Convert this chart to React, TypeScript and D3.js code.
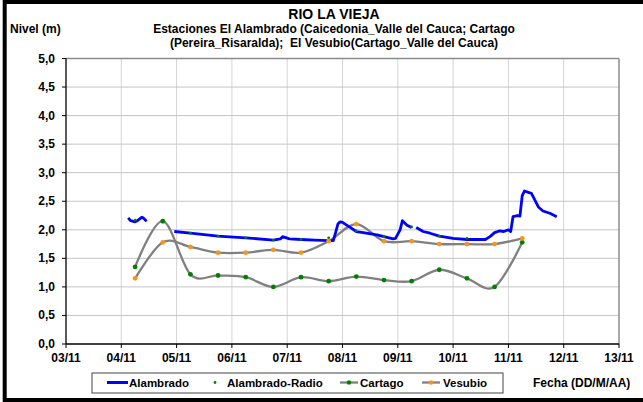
import React from "react";
import * as d3 from "d3";

// Niveles Rio La Vieja - estaciones El Alambrado, Cartago, El Vesubio

const W = 643, H = 402;
const plot = { left: 66, right: 619, top: 58.5, bottom: 344 };
const font = "'Liberation Sans', Arial, sans-serif";

const xTickDays = ["2011-11-03", "2011-11-04", "2011-11-05", "2011-11-06", "2011-11-07", "2011-11-08",
  "2011-11-09", "2011-11-10", "2011-11-11", "2011-11-12", "2011-11-13"];
const yTicks = [0, 0.5, 1, 1.5, 2, 2.5, 3, 3.5, 4, 4.5, 5];

// lecturas cada 12 h (Cartago y Vesubio)
const readTimes = ["2011-11-04 06:00", "2011-11-04 18:00", "2011-11-05 06:00", "2011-11-05 18:00",
  "2011-11-06 06:00", "2011-11-06 18:00", "2011-11-07 06:00", "2011-11-07 18:00", "2011-11-08 06:00",
  "2011-11-08 18:00", "2011-11-09 06:00", "2011-11-09 18:00", "2011-11-10 06:00", "2011-11-10 18:00",
  "2011-11-11 06:00"];
const cartago = [1.35, 2.15, 1.22, 1.2, 1.17, 1.0, 1.17, 1.1, 1.18, 1.12, 1.1, 1.3, 1.15, 1.0, 1.78];
const vesubio = [1.15, 1.78, 1.7, 1.6, 1.6, 1.65, 1.6, 1.8, 2.1, 1.8, 1.8, 1.75, 1.75, 1.75, 1.85];

// Alambrado-Radio
const radioTimes = ["2011-11-04 06:00", "2011-11-05 06:00", "2011-11-05 18:00", "2011-11-06 06:00",
  "2011-11-06 18:00", "2011-11-07 06:00", "2011-11-07 18:00", "2011-11-08 06:00", "2011-11-08 18:00",
  "2011-11-09 06:00", "2011-11-09 18:00", "2011-11-10 06:00"];
const radioValues = [2.17, 1.94, 1.89, 1.86, 1.82, 1.83, 1.86, 1.98, 1.88, 2.05, 1.89, 1.85];

// Alambrado (sensor), null = sin dato
const alambradoTimes = [
  "2011-11-04 03:00", "2011-11-04 04:00", "2011-11-04 06:00", "2011-11-04 07:00", "2011-11-04 09:00",
  "2011-11-04 10:00", "2011-11-04 11:00", "2011-11-04 17:00",
  "2011-11-04 23:00", "2011-11-05 06:00", "2011-11-05 18:00", "2011-11-06 06:00", "2011-11-06 18:00",
  "2011-11-06 21:00", "2011-11-06 22:00", "2011-11-07 01:00", "2011-11-07 06:00", "2011-11-07 12:00",
  "2011-11-07 18:00", "2011-11-07 20:00", "2011-11-07 21:00", "2011-11-07 22:00", "2011-11-07 23:00",
  "2011-11-08 00:00", "2011-11-08 03:00", "2011-11-08 06:00", "2011-11-08 09:00", "2011-11-08 15:00",
  "2011-11-08 18:00", "2011-11-08 22:00", "2011-11-08 23:00", "2011-11-09 01:00", "2011-11-09 02:00",
  "2011-11-09 04:00", "2011-11-09 06:00", "2011-11-09 07:00",
  "2011-11-09 08:00", "2011-11-09 11:00", "2011-11-09 14:00", "2011-11-09 18:00", "2011-11-10 00:00",
  "2011-11-10 06:00", "2011-11-10 14:00", "2011-11-10 16:00", "2011-11-10 18:00", "2011-11-10 20:00",
  "2011-11-10 22:00", "2011-11-11 00:00", "2011-11-11 01:00", "2011-11-11 02:00", "2011-11-11 04:00",
  "2011-11-11 05:00", "2011-11-11 06:00", "2011-11-11 07:00", "2011-11-11 09:00", "2011-11-11 10:00",
  "2011-11-11 13:00", "2011-11-11 15:00", "2011-11-11 18:00", "2011-11-11 21:00"];
const alambradoValues = [
  2.21, 2.16, 2.14, 2.16, 2.22, 2.19, 2.15, null,
  1.97, 1.94, 1.89, 1.86, 1.82, 1.84, 1.88, 1.84, 1.83, 1.82,
  1.81, 1.81, 1.95, 2.1, 2.14, 2.13, 2.05, 1.97, 1.95, 1.91,
  1.88, 1.84, 1.85, 2.0, 2.16, 2.08, 2.04, null,
  2.04, 1.97, 1.94, 1.89, 1.85, 1.83, 1.83, 1.88, 1.95, 1.98,
  1.97, 2.0, 1.97, 2.23, 2.25, 2.24, 2.6, 2.68, 2.65, 2.64,
  2.4, 2.33, 2.29, 2.23];

const legendItems = ["Alambrado", "Alambrado-Radio", "Cartago", "Vesubio"];

const parseT = d3.utcParse("%Y-%m-%d %H:%M");
const parseD = d3.utcParse("%Y-%m-%d");
const fmtDay = d3.utcFormat("%d/%m");
const fmtY = (v: number) => v.toFixed(1).replace(".", ",");

export default function App() {
  const x = d3.scaleUtc()
    .domain([parseD(xTickDays[0])!, parseD(xTickDays[xTickDays.length - 1])!])
    .range([plot.left, plot.right]);
  const y = d3.scaleLinear().domain([0, 5]).range([plot.bottom, plot.top]);

  const smooth = d3.line<[Date, number]>()
    .x(d => x(d[0]))
    .y(d => y(d[1]))
    .curve(d3.curveCardinal.tension(0));

  const sharp = d3.line<[Date, number | null]>()
    .defined(d => d[1] !== null)
    .x(d => x(d[0]))
    .y(d => y(d[1] as number));

  const cartagoPts: [Date, number][] = readTimes.map((t, i) => [parseT(t)!, cartago[i]]);
  const vesubioPts: [Date, number][] = readTimes.map((t, i) => [parseT(t)!, vesubio[i]]);
  const radioPts: [Date, number][] = radioTimes.map((t, i) => [parseT(t)!, radioValues[i]]);
  const alamPts: [Date, number | null][] = alambradoTimes.map((t, i) => [parseT(t)!, alambradoValues[i]]);

  const green = "#008000", orange = "#f7941d", gray = "#808080", blue = "#0000ff";

  return (
    <svg width={W} height={H} style={{ position: "absolute", left: 0, top: 0, background: "#fff" }}
      fontFamily={font} fontWeight="bold">
      <rect x={0} y={0} width={W} height={H} fill="#fff" />

      {/* grid */}
      {xTickDays.slice(1, -1).map(d => (
        <line key={d} x1={x(parseD(d)!)} x2={x(parseD(d)!)} y1={plot.top} y2={plot.bottom}
          stroke="#d4d4d4" strokeWidth={1} />
      ))}
      {yTicks.slice(1).map(v => (
        <line key={v} x1={plot.left} x2={plot.right} y1={y(v)} y2={y(v)} stroke="#c4c4c4" strokeWidth={1} />
      ))}
      <line x1={plot.left} x2={plot.right} y1={plot.top} y2={plot.top} stroke="#8c8c8c" strokeWidth={1.5} />
      <line x1={plot.right} x2={plot.right} y1={plot.top} y2={plot.bottom} stroke="#8c8c8c" strokeWidth={1.5} />

      {/* axes */}
      <line x1={plot.left} x2={plot.left} y1={plot.top} y2={plot.bottom} stroke="#000" strokeWidth={1.3} />
      <line x1={plot.left} x2={plot.right} y1={plot.bottom} y2={plot.bottom} stroke="#000" strokeWidth={1.3} />
      {yTicks.map(v => (
        <g key={v}>
          <line x1={plot.left - 4} x2={plot.left} y1={y(v)} y2={y(v)} stroke="#000" strokeWidth={1} />
          <text x={55} y={y(v) + 4} textAnchor="end" fontSize={12}>{fmtY(v)}</text>
        </g>
      ))}
      {xTickDays.map(d => (
        <g key={d}>
          <line x1={x(parseD(d)!)} x2={x(parseD(d)!)} y1={plot.bottom} y2={plot.bottom + 4} stroke="#000" strokeWidth={1} />
          <text x={x(parseD(d)!)} y={361.5} textAnchor="middle" fontSize={12}>{fmtDay(parseD(d)!)}</text>
        </g>
      ))}

      {/* series */}
      <path d={smooth(vesubioPts)!} fill="none" stroke={gray} strokeWidth={2.3} />
      <path d={smooth(cartagoPts)!} fill="none" stroke={gray} strokeWidth={2.3} />
      <path d={sharp(alamPts)!} fill="none" stroke={blue} strokeWidth={2.8} strokeLinejoin="round" />
      {radioPts.map((p, i) => (
        <circle key={"r" + i} cx={x(p[0])} cy={y(p[1])} r={1.4} fill={green} />
      ))}
      {cartagoPts.map((p, i) => (
        <circle key={"c" + i} cx={x(p[0])} cy={y(p[1])} r={2.4} fill={green} />
      ))}
      {vesubioPts.map((p, i) => (
        <circle key={"v" + i} cx={x(p[0])} cy={y(p[1])} r={2.4} fill={orange} />
      ))}

      {/* titles */}
      <text x={334} y={19} textAnchor="middle" fontSize={14}>RIO LA VIEJA</text>
      <text x={334} y={33} textAnchor="middle" fontSize={12}>Estaciones El Alambrado (Caicedonia_Valle del Cauca; Cartago</text>
      <text x={334} y={47} textAnchor="middle" fontSize={12} style={{ whiteSpace: "pre" }}>
        {"(Pereira_Risaralda);  El Vesubio(Cartago_Valle del Cauca)"}
      </text>
      <text x={10} y={33} fontSize={12}>Nivel (m)</text>
      <text x={533} y={387} fontSize={12}>Fecha (DD/M/AA)</text>

      {/* legend */}
      <rect x={92} y={373} width={411} height={20} fill="#fff" stroke="#444" strokeWidth={1} />
      <line x1={107} x2={128} y1={382.5} y2={382.5} stroke={blue} strokeWidth={3} />
      <text x={129} y={387} fontSize={11.5}>{legendItems[0]}</text>
      <circle cx={215} cy={382.5} r={1.4} fill={green} />
      <text x={227} y={387} fontSize={11.5}>{legendItems[1]}</text>
      <line x1={340} x2={358} y1={382.5} y2={382.5} stroke={gray} strokeWidth={2.3} />
      <circle cx={349} cy={382.5} r={2.2} fill={green} />
      <text x={360} y={387} fontSize={11.5}>{legendItems[2]}</text>
      <line x1={422} x2={440} y1={382.5} y2={382.5} stroke={gray} strokeWidth={2.3} />
      <circle cx={431} cy={382.5} r={2.2} fill={orange} />
      <text x={443} y={387} fontSize={11.5}>{legendItems[3]}</text>

      {/* frame */}
      <rect x={4.7} y={2} width={W + 20} height={398} fill="none" stroke="#000" strokeWidth={4} />
    </svg>
  );
}
